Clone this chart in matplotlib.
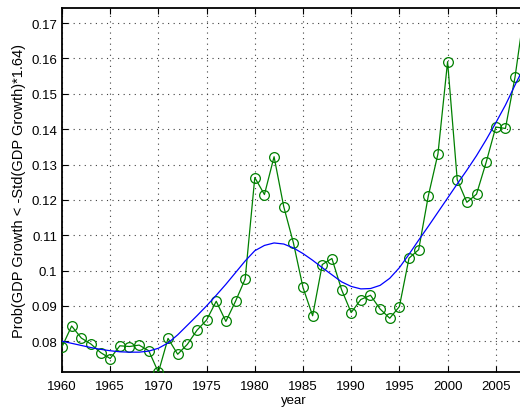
import matplotlib
matplotlib.use("Agg")
import matplotlib.pyplot as plt
import numpy as np

years = list(range(1960, 2009))
prob = [0.0784, 0.0843, 0.0809, 0.0792, 0.0768, 0.0751, 0.0787, 0.0785, 0.0789, 0.0773,
        0.0712, 0.0808, 0.0763, 0.0791, 0.0831, 0.0860, 0.0913, 0.0856, 0.0913, 0.0976,
        0.1263, 0.1215, 0.1322, 0.1181, 0.1079, 0.0952, 0.0872, 0.1017, 0.1034, 0.0946,
        0.0881, 0.0918, 0.0930, 0.0891, 0.0865, 0.0898, 0.1035, 0.1059, 0.1211, 0.1330,
        0.1591, 0.1257, 0.1193, 0.1216, 0.1306, 0.1406, 0.1402, 0.1548, 0.1742]
trend = [0.0800, 0.0794, 0.0788, 0.0782, 0.0777, 0.0773, 0.0770, 0.0769, 0.0769, 0.0772,
         0.0780, 0.0795, 0.0818, 0.0845, 0.0872, 0.0900, 0.0930, 0.0961, 0.0994, 0.1027,
         0.1056, 0.1071, 0.1078, 0.1075, 0.1064, 0.1048, 0.1029, 0.1008, 0.0988, 0.0968,
         0.0955, 0.0948, 0.0949, 0.0958, 0.0978, 0.1008, 0.1046, 0.1086, 0.1125, 0.1165,
         0.1205, 0.1245, 0.1284, 0.1325, 0.1370, 0.1418, 0.1468, 0.1525, 0.1580]
xticks = list(range(1960, 2006, 5))
yticks = [0.08, 0.09, 0.10, 0.11, 0.12, 0.13, 0.14, 0.15, 0.16, 0.17]
ytick_labels = ["0.08", "0.09", "0.1", "0.11", "0.12", "0.13", "0.14", "0.15", "0.16", "0.17"]

plt.rcParams['font.family'] = ['Liberation Sans', 'DejaVu Sans']

fig = plt.figure(figsize=(5.2, 4.1), dpi=100)
ax = fig.add_axes([62/520, 1 - 373.3/410, 462.7/520, (373.3 - 9.3)/410])

ax.plot(years, prob, color='#008000', lw=0.9, marker='o', markersize=7,
        markerfacecolor='none', markeredgecolor='#008000', markeredgewidth=0.9, zorder=3)
ax.plot(years, trend, color='#0000ff', lw=0.9, zorder=4)

ax.set_xlim(years[0], years[-1])
ax.set_ylim(min(prob), max(prob))
ax.set_xticks(xticks)
ax.set_xticklabels([str(t) for t in xticks])
ax.set_yticks(yticks)
ax.set_yticklabels(ytick_labels)

ax.grid(True, color='0.25', linestyle=(0, (1, 4)), linewidth=0.8)
ax.tick_params(direction='in', length=4, width=0.8, top=True, right=True,
               labelsize=9.5, colors='black')
ax.tick_params(axis='x', pad=5.5)
ax.tick_params(axis='y', pad=3.5)
for s in ax.spines.values():
    s.set_linewidth(1.3)
    s.set_color('black')

ax.set_xlabel('year', fontsize=9.5, labelpad=1.5)
ax.set_ylabel('Prob(GDP Growth < -Std(GDP Growth)*1.64)', fontsize=10.5, labelpad=4)

fig.savefig('out.png', dpi=100)
